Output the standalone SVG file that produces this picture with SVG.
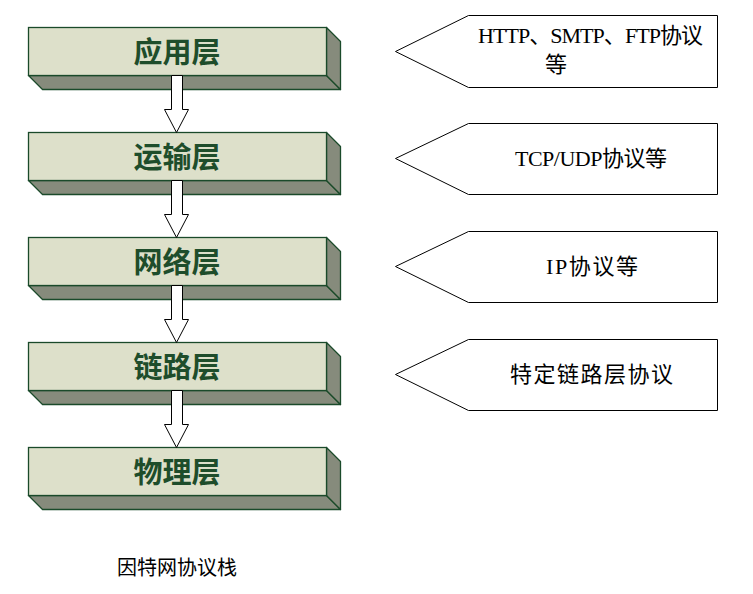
<svg xmlns="http://www.w3.org/2000/svg" width="753" height="594" viewBox="0 0 753 594">
<style>
.front{fill:#dde0ca;stroke:#1a4a2a;stroke-width:1.3}
.side{fill:#868b7c;stroke:#1a4a2a;stroke-width:1.3;stroke-linejoin:round}
.title{font-family:"Noto Sans CJK SC","Noto Sans CJK TC",sans-serif;font-size:29px;font-weight:bold;fill:#1e4d2b;text-anchor:middle;dominant-baseline:central}
.callout{fill:#ffffff;stroke:#000000;stroke-width:1}
.ctext{font-family:"Liberation Serif","Noto Sans CJK SC",serif;font-size:22px;fill:#000000}
.arrow{fill:#ffffff;stroke:#000000;stroke-width:1}
.caption{font-family:"Noto Sans CJK SC",sans-serif;font-size:20px;fill:#000000}
</style>
<rect width="753" height="594" fill="#ffffff"/>
<g id="layer-app">
<polygon class="side" points="28.5,75.5 326.5,75.5 340.5,89.5 42.5,89.5"/>
<polygon class="side" points="326.5,27.5 340.5,41.5 340.5,89.5 326.5,75.5"/>
<rect class="front" x="28.5" y="27.5" width="298" height="48"/>
<text class="title" x="177" y="49.5">应用层</text>
</g>
<g id="layer-transport">
<polygon class="side" points="28.5,180.5 326.5,180.5 340.5,194.5 42.5,194.5"/>
<polygon class="side" points="326.5,132.5 340.5,146.5 340.5,194.5 326.5,180.5"/>
<rect class="front" x="28.5" y="132.5" width="298" height="48"/>
<text class="title" x="177" y="154.5">运输层</text>
</g>
<g id="layer-network">
<polygon class="side" points="28.5,285.5 326.5,285.5 340.5,299.5 42.5,299.5"/>
<polygon class="side" points="326.5,237.5 340.5,251.5 340.5,299.5 326.5,285.5"/>
<rect class="front" x="28.5" y="237.5" width="298" height="48"/>
<text class="title" x="177" y="259.5">网络层</text>
</g>
<g id="layer-link">
<polygon class="side" points="28.5,390.5 326.5,390.5 340.5,404.5 42.5,404.5"/>
<polygon class="side" points="326.5,342.5 340.5,356.5 340.5,404.5 326.5,390.5"/>
<rect class="front" x="28.5" y="342.5" width="298" height="48"/>
<text class="title" x="177" y="364.5">链路层</text>
</g>
<g id="layer-physical">
<polygon class="side" points="28.5,495.5 326.5,495.5 340.5,509.5 42.5,509.5"/>
<polygon class="side" points="326.5,447.5 340.5,461.5 340.5,509.5 326.5,495.5"/>
<rect class="front" x="28.5" y="447.5" width="298" height="48"/>
<text class="title" x="177" y="469.5">物理层</text>
</g>
<g id="connectors">
<polygon class="arrow" points="171.5,75.5 182.5,75.5 182.5,109.5 188.5,109.5 176.5,132.5 164.5,109.5 171.5,109.5"/>
<polygon class="arrow" points="171.5,180.5 182.5,180.5 182.5,214.5 188.5,214.5 176.5,237.5 164.5,214.5 171.5,214.5"/>
<polygon class="arrow" points="171.5,285.5 182.5,285.5 182.5,319.5 188.5,319.5 176.5,342.5 164.5,319.5 171.5,319.5"/>
<polygon class="arrow" points="171.5,390.5 182.5,390.5 182.5,424.5 188.5,424.5 176.5,447.5 164.5,424.5 171.5,424.5"/>
</g>
<g id="callout-app">
<polygon class="callout" points="395.5,51.5 468.5,15.5 717.5,15.5 717.5,87.5 468.5,87.5"/>
<text class="ctext" x="478" y="43" textLength="225" lengthAdjust="spacing">HTTP、SMTP、FTP协议</text>
<text class="ctext" x="545" y="72">等</text>
</g>
<g id="callout-transport">
<polygon class="callout" points="395.5,158.5 468.5,123.5 717.5,123.5 717.5,194.5 468.5,194.5"/>
<text class="ctext" x="515" y="166" textLength="152" lengthAdjust="spacing">TCP/UDP协议等</text>
</g>
<g id="callout-network">
<polygon class="callout" points="395.5,266.5 468.5,231.5 717.5,231.5 717.5,302.5 468.5,302.5"/>
<text class="ctext" x="546" y="274" textLength="92" lengthAdjust="spacing">IP协议等</text>
</g>
<g id="callout-link">
<polygon class="callout" points="395.5,374.5 468.5,339.5 717.5,339.5 717.5,410.5 468.5,410.5"/>
<text class="ctext" x="510" y="382" textLength="163" lengthAdjust="spacing">特定链路层协议</text>
</g>
<text class="caption" x="117" y="575" textLength="120" lengthAdjust="spacing">因特网协议栈</text>
</svg>
